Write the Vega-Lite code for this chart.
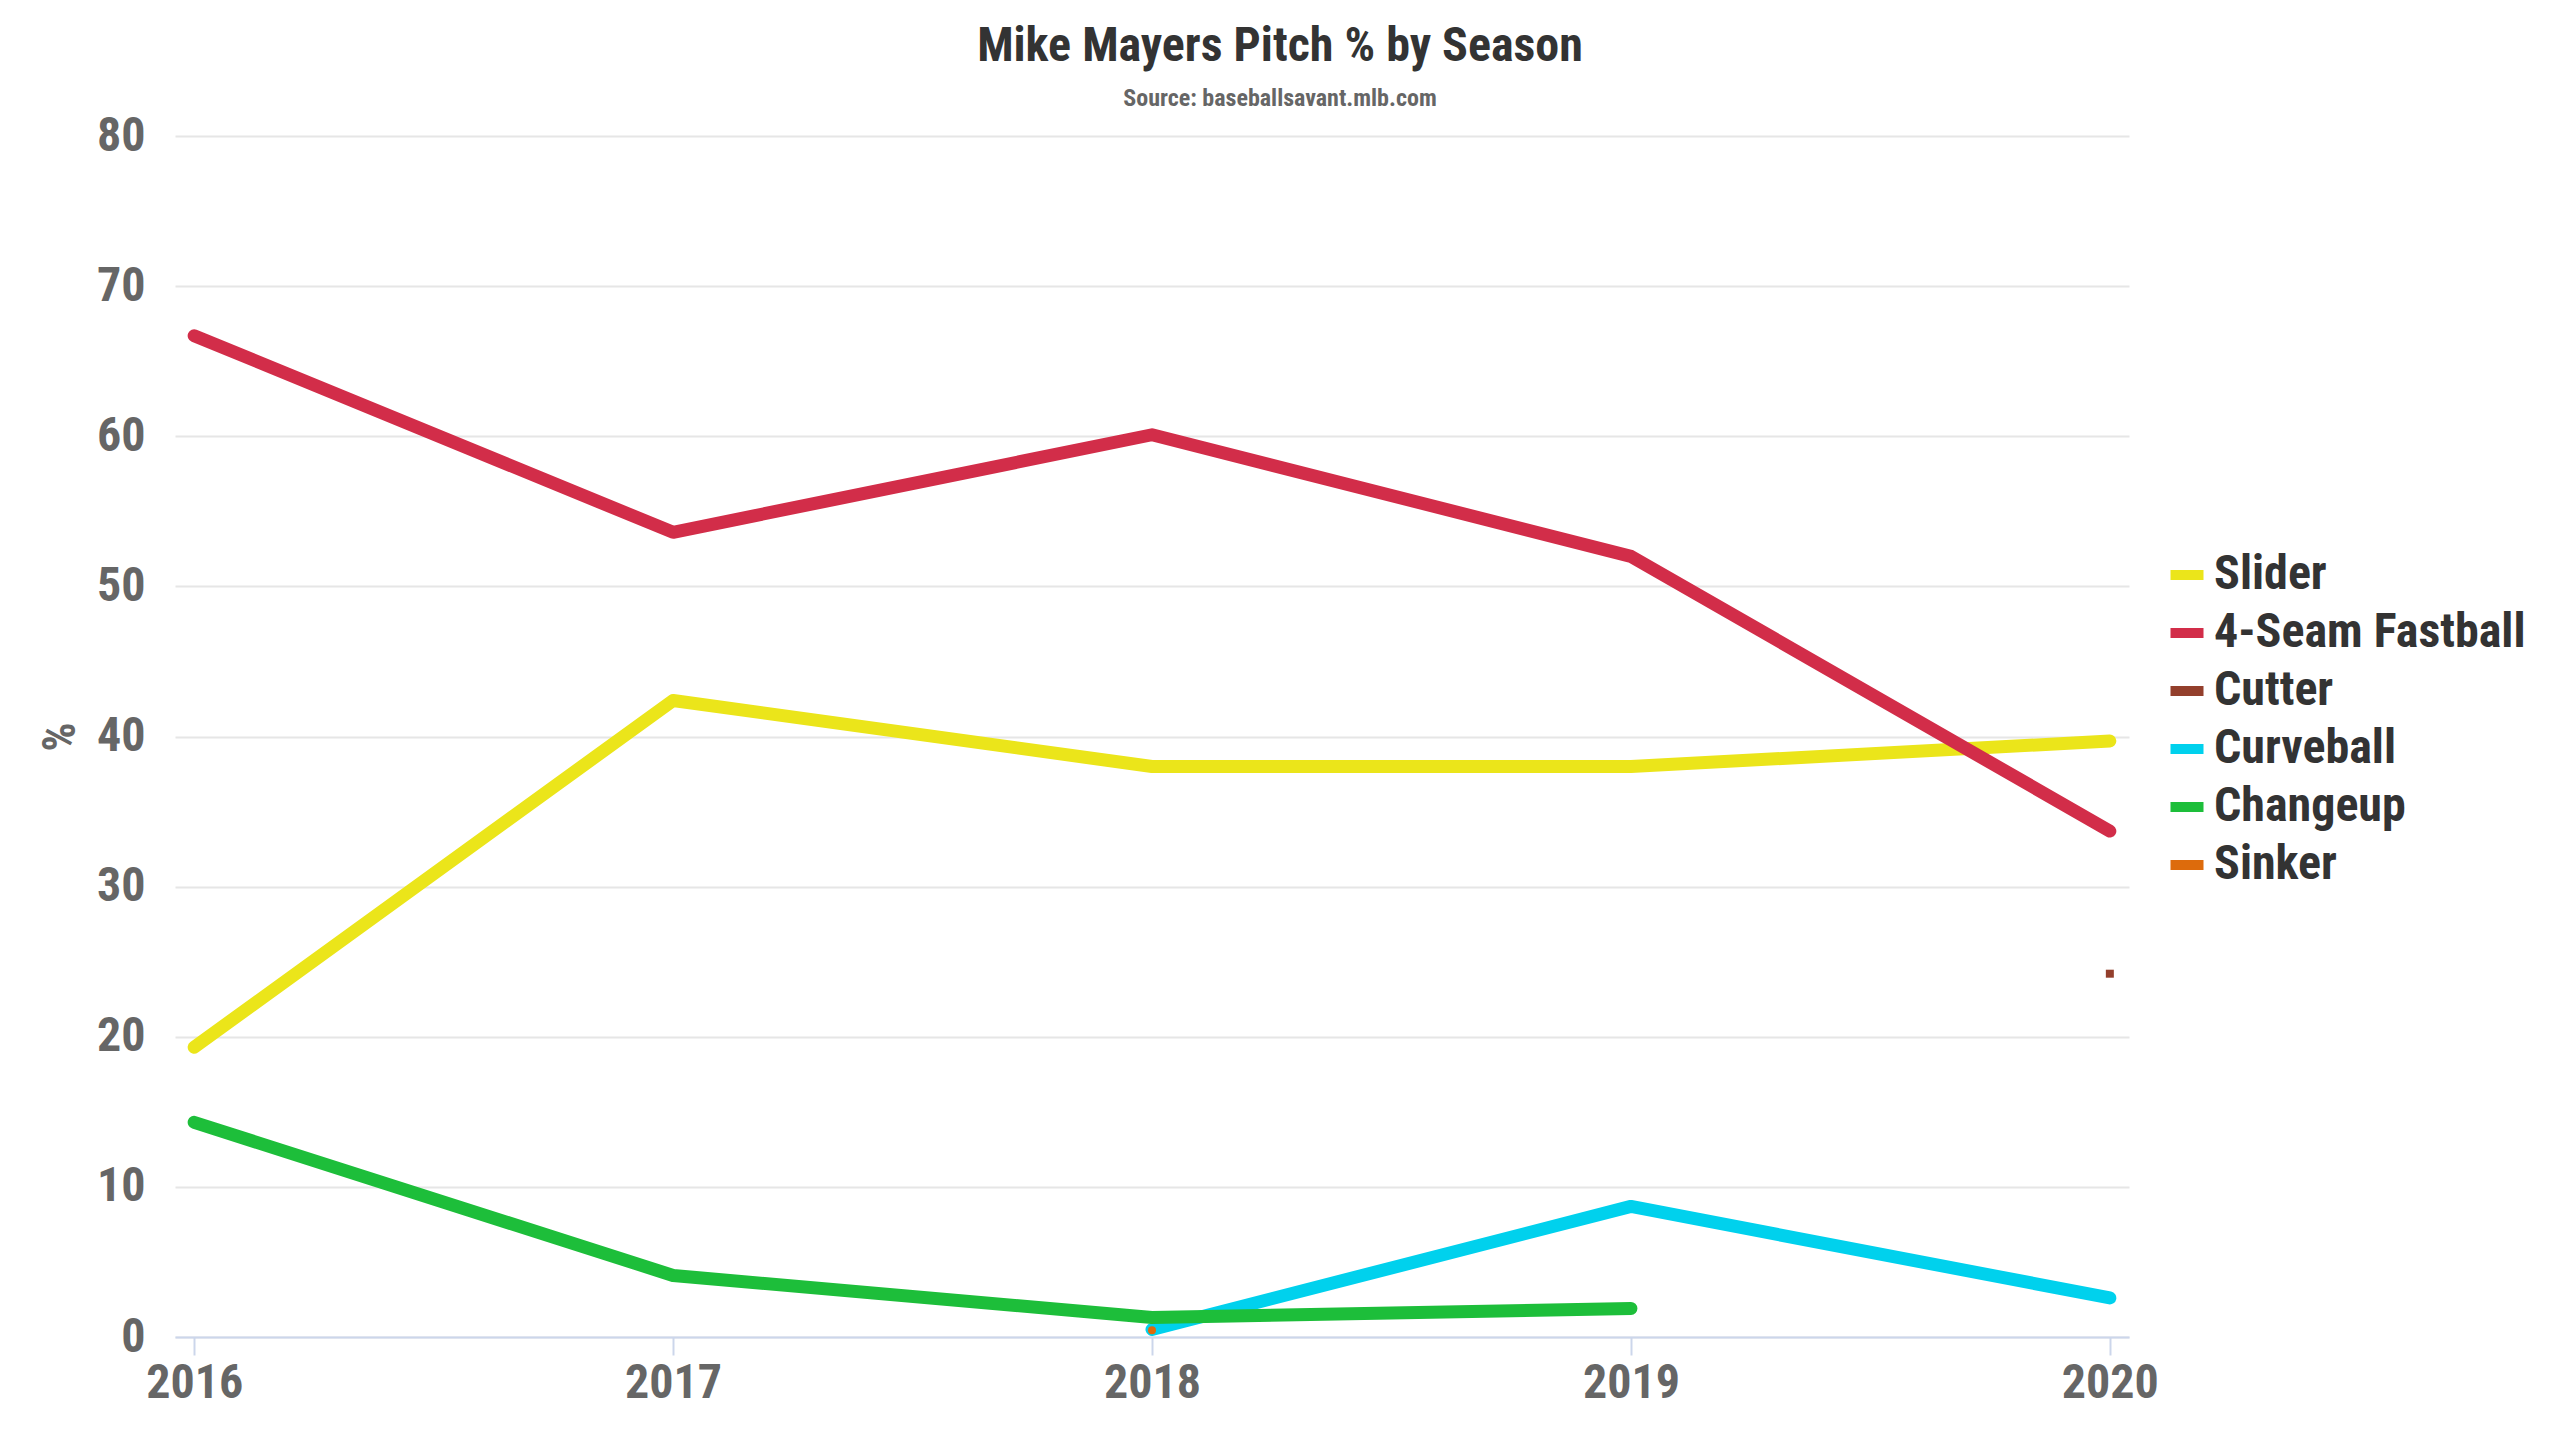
{
  "$schema": "https://vega.github.io/schema/vega-lite/v6.json",
  "autosize": {"type": "none"},
  "padding": {"left": 175, "top": 136, "right": 431, "bottom": 103},
  "width": 1954,
  "height": 1201,
  "background": "white",
  "title": {
    "text": "Mike Mayers Pitch % by Season",
    "subtitle": "Source: baseballsavant.mlb.com",
    "anchor": "middle",
    "dx": 128,
    "offset": 1,
    "fontSize": 48,
    "color": "#333333",
    "subtitleFontSize": 24,
    "subtitleColor": "#666666",
    "subtitleFontWeight": "bold",
    "subtitlePadding": 16
  },
  "data": {
    "values": [
      {"pitch": "Slider", "year": "2016", "pct": 19.3},
      {"pitch": "Slider", "year": "2017", "pct": 42.4},
      {"pitch": "Slider", "year": "2018", "pct": 38.0},
      {"pitch": "Slider", "year": "2019", "pct": 38.0},
      {"pitch": "Slider", "year": "2020", "pct": 39.7},
      {"pitch": "4-Seam Fastball", "year": "2016", "pct": 66.7},
      {"pitch": "4-Seam Fastball", "year": "2017", "pct": 53.6},
      {"pitch": "4-Seam Fastball", "year": "2018", "pct": 60.1},
      {"pitch": "4-Seam Fastball", "year": "2019", "pct": 52.0},
      {"pitch": "4-Seam Fastball", "year": "2020", "pct": 33.7},
      {"pitch": "Cutter", "year": "2020", "pct": 24.2},
      {"pitch": "Curveball", "year": "2018", "pct": 0.5},
      {"pitch": "Curveball", "year": "2019", "pct": 8.7},
      {"pitch": "Curveball", "year": "2020", "pct": 2.6},
      {"pitch": "Changeup", "year": "2016", "pct": 14.3},
      {"pitch": "Changeup", "year": "2017", "pct": 4.1},
      {"pitch": "Changeup", "year": "2018", "pct": 1.3},
      {"pitch": "Changeup", "year": "2019", "pct": 1.9},
      {"pitch": "Sinker", "year": "2018", "pct": 0.45}
    ]
  },
  "encoding": {
    "x": {
      "field": "year",
      "type": "ordinal",
      "scale": {"type": "point", "padding": 0.04},
      "axis": {
        "title": null,
        "labelAngle": 0,
        "grid": false,
        "domainColor": "#ccd6eb",
        "domainWidth": 2,
        "tickColor": "#ccd6eb",
        "tickWidth": 2,
        "tickSize": 18,
        "labelPadding": 4
      }
    },
    "y": {
      "field": "pct",
      "type": "quantitative",
      "scale": {"domain": [0, 80], "nice": false},
      "axis": {
        "title": "%",
        "values": [0, 10, 20, 30, 40, 50, 60, 70, 80],
        "domain": false,
        "ticks": false,
        "grid": true,
        "gridColor": "#e6e6e6",
        "gridWidth": 2,
        "labelPadding": 30,
        "titleX": -91,
        "titleFontSize": 46
      }
    },
    "color": {
      "field": "pitch",
      "type": "nominal",
      "scale": {
        "domain": ["Slider", "4-Seam Fastball", "Cutter", "Curveball", "Changeup", "Sinker"],
        "range": ["#ebe51a", "#d22d49", "#933f2c", "#00d1ed", "#1dbe3a", "#dd6b0c"]
      },
      "legend": {
        "title": null,
        "orient": "none",
        "legendX": 1988,
        "legendY": 415,
        "symbolType": "stroke",
        "symbolSize": 1089,
        "symbolStrokeWidth": 10,
        "labelOffset": 3,
        "labelLimit": 0,
        "rowPadding": 10,
        "encode": {
          "symbols": {
            "update": {
              "stroke": {"scale": "color", "field": "value"},
              "strokeCap": {"value": "butt"},
              "opacity": {"value": 1}
            }
          }
        }
      }
    }
  },
  "layer": [
    {
      "transform": [{"filter": {"field": "pitch", "oneOf": ["Slider", "4-Seam Fastball", "Curveball", "Changeup"]}}],
      "mark": {"type": "line", "strokeWidth": 13, "strokeCap": "round", "strokeJoin": "round"}
    },
    {
      "transform": [{"filter": {"field": "pitch", "oneOf": ["Cutter", "Sinker"]}}],
      "mark": {"type": "point", "filled": true, "size": 64, "opacity": 1},
      "encoding": {
        "shape": {
          "field": "pitch",
          "type": "nominal",
          "scale": {"domain": ["Cutter", "Sinker"], "range": ["square", "circle"]},
          "legend": null
        }
      }
    }
  ],
  "config": {
    "font": "Roboto Condensed, Liberation Sans Narrow, DejaVu Sans Condensed, Roboto, sans-serif",
    "view": {"stroke": null},
    "title": {"fontWeight": "bold"},
    "axis": {
      "labelFontSize": 48,
      "labelFontWeight": "bold",
      "labelColor": "#666666",
      "titleFontWeight": "bold",
      "titleColor": "#666666"
    },
    "legend": {
      "labelFontSize": 48,
      "labelFontWeight": "bold",
      "labelColor": "#333333"
    }
  }
}
